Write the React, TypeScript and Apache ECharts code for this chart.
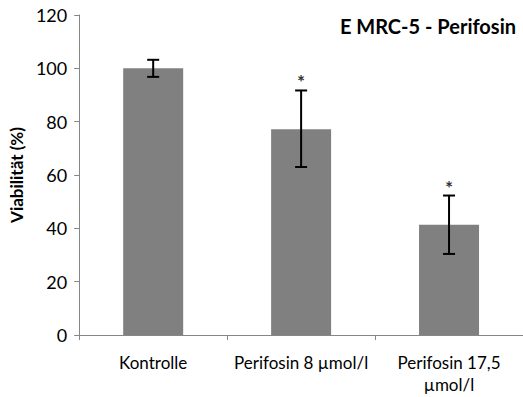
import React, { useEffect, useRef } from "react";
import * as echarts from "echarts";

const categories = ["Kontrolle", "Perifosin 8 µmol/l", "Perifosin 17,5\nµmol/l"];
const viability = [100, 77.2, 41.3];
const errorLow = [96.8, 63.0, 30.4];
const errorHigh = [103.2, 91.7, 52.3];
const significance = ["", "*", "*"];
const yTicks = [0, 20, 40, 60, 80, 100, 120];

const FONT = "Lato";

export default function App() {
  const ref = useRef<HTMLDivElement>(null);
  useEffect(() => {
    const chart = echarts.init(ref.current!, null, { renderer: "svg" });
    chart.setOption({
      animation: false,
      backgroundColor: "#ffffff",
      title: {
        text: "E MRC-5 - Perifosin",
        right: 2,
        top: 11,
        textStyle: { fontFamily: FONT, fontWeight: "bold", fontSize: 20, color: "#000" },
      },
      grid: { left: 78, right: -2, top: 15, bottom: 62 },
      xAxis: {
        type: "category",
        data: categories,
        axisLine: { lineStyle: { color: "#868686", width: 1 } },
        axisTick: { show: true, length: 5, lineStyle: { color: "#868686" } },
        axisLabel: {
          color: "#000",
          fontFamily: FONT,
          fontSize: 17,
          margin: 16,
          lineHeight: 22,
          interval: 0,
        },
      },
      yAxis: {
        type: "value",
        min: yTicks[0],
        max: yTicks[yTicks.length - 1],
        interval: 20,
        name: "Viabilität (%)",
        nameLocation: "middle",
        nameGap: 52,
        nameTextStyle: { fontFamily: FONT, fontWeight: "bold", fontSize: 17, color: "#000" },
        axisLine: { show: true, lineStyle: { color: "#868686", width: 1 } },
        axisTick: { show: true, length: 5, lineStyle: { color: "#868686" } },
        splitLine: { show: false },
        axisLabel: { color: "#000", fontFamily: FONT, fontSize: 18, margin: 12 },
      },
      series: [
        {
          type: "bar",
          data: viability,
          barWidth: 60,
          itemStyle: { color: "#808080" },
        },
        {
          type: "custom",
          data: categories.map((_, i) => [i, errorLow[i], errorHigh[i], significance[i]]),
          z: 10,
          renderItem: (params: any, api: any) => {
            const i = api.value(0);
            const lo = api.coord([i, api.value(1)]);
            const hi = api.coord([i, api.value(2)]);
            const cap = 6;
            const style = { stroke: "#000", lineWidth: 2 };
            const children: any[] = [
              { type: "line", shape: { x1: hi[0], y1: hi[1], x2: lo[0], y2: lo[1] }, style },
              { type: "line", shape: { x1: hi[0] - cap, y1: hi[1], x2: hi[0] + cap, y2: hi[1] }, style },
              { type: "line", shape: { x1: lo[0] - cap, y1: lo[1], x2: lo[0] + cap, y2: lo[1] }, style },
            ];
            const sig = significance[params.dataIndex];
            if (sig) {
              children.push({
                type: "text",
                style: {
                  text: sig,
                  x: hi[0],
                  y: hi[1] + 1,
                  align: "center",
                  verticalAlign: "bottom",
                  fontFamily: FONT,
                  fontSize: 19,
                  fontWeight: "bold",
                  fill: "#333",
                },
              });
            }
            return { type: "group", children };
          },
        },
      ],
    });
    return () => chart.dispose();
  }, []);
  return (
    <div
      ref={ref}
      style={{ position: "fixed", left: 0, top: 0, width: 523, height: 397, background: "#fff" }}
    />
  );
}
